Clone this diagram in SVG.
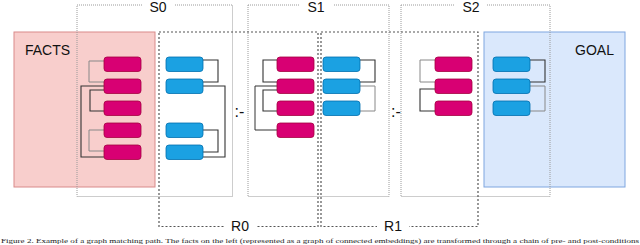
<svg xmlns="http://www.w3.org/2000/svg" width="640" height="245" viewBox="0 0 640 245">
<style>
text{font-family:"Liberation Sans",Arial,sans-serif;fill:#111}
.lbl{font-size:14px;text-anchor:middle}
.op{font-size:16px;text-anchor:middle}
.sbox{fill:none;stroke:#9a9a9a;stroke-width:1;stroke-dasharray:1 1}
.rbox{fill:none;stroke:#555;stroke-width:1.2;stroke-dasharray:2 2}
.pk{fill:#d80073;stroke:#a50040;stroke-width:0.8}
.bl{fill:#1ba1e2;stroke:#006eaf;stroke-width:0.8}
.dk{fill:none;stroke:#333;stroke-width:1.1}
.gr{fill:none;stroke:#888;stroke-width:1}
.cap{font-family:"Liberation Serif","Times New Roman",serif;font-size:7px;fill:#222}
</style>
<g id="facts">
<rect x="14" y="32" width="141" height="155" fill="#f8cecc" stroke="#d98a8a" stroke-width="1"/>
<text x="25" y="55" style="font-size:14px">FACTS</text>
</g>
<g id="goal">
<rect x="484" y="32" width="141" height="155" fill="#dae8fc" stroke="#7ea6e0" stroke-width="1"/>
<text x="614" y="55" style="font-size:14px;text-anchor:end">GOAL</text>
</g>
<g id="S0">
<rect class="sbox" x="77" y="5" width="155.5" height="191.5"/>
<rect x="142" y="0" width="32" height="12" fill="#fff"/>
<text class="lbl" x="158" y="12">S0</text>
</g>
<g id="S1">
<rect class="sbox" x="248" y="5" width="141" height="191.5"/>
<rect x="300" y="0" width="33" height="12" fill="#fff"/>
<text class="lbl" x="316" y="12">S1</text>
</g>
<g id="S2">
<rect class="sbox" x="401" y="5" width="149" height="191.5"/>
<rect x="455" y="0" width="32" height="12" fill="#fff"/>
<text class="lbl" x="471" y="12">S2</text>
</g>
<g id="R0">
<rect class="rbox" x="159" y="32" width="159" height="194.5"/>
<rect x="224" y="219" width="32" height="12" fill="#fff"/>
<text class="lbl" x="240" y="231">R0</text>
</g>
<g id="R1">
<rect class="rbox" x="321" y="32" width="157" height="194.5"/>
<rect x="377" y="219" width="32" height="12" fill="#fff"/>
<text class="lbl" x="393" y="231">R1</text>
</g>
<g id="ops">
<text class="op" x="239.5" y="117">:-</text>
<text class="op" x="396" y="117">:-</text>
</g>
<g id="connectors">
<path class="gr" d="M104,61 H89 V82 H104"/>
<path class="dk" d="M104,86 H81 V157 H104"/>
<path class="dk" d="M104,90 H90 V111 H104"/>
<path class="gr" d="M104,130 H89 V151 H104"/>
<path class="dk" d="M203,60 H218 V82 H203"/>
<path class="dk" d="M203,86 H225 V157 H203"/>
<path class="dk" d="M203,130 H218 V152 H203"/>
<path class="dk" d="M277,60 H263 V82 H277"/>
<path class="dk" d="M277,86 H255 V130 H277" style="stroke-width:1"/>
<path class="dk" d="M277,90 H263 V111 H277"/>
<path class="dk" d="M360,60 H375 V82 H360"/>
<path class="gr" d="M360,86 H375 V111 H360"/>
<path class="gr" d="M435,60 H420 V82 H435"/>
<path class="dk" d="M435,89 H420 V111 H435"/>
<path class="dk" d="M530,60 H545 V82 H530"/>
<path class="gr" d="M530,86 H545 V111 H530"/>
</g>
<g id="fact-nodes">
<rect class="pk" x="104" y="57" width="37" height="14.5" rx="3"/>
<rect class="pk" x="104" y="79" width="37" height="14.5" rx="3"/>
<rect class="pk" x="104" y="101" width="37" height="14.5" rx="3"/>
<rect class="pk" x="104" y="123" width="37" height="14.5" rx="3"/>
<rect class="pk" x="104" y="145" width="37" height="14.5" rx="3"/>
</g>
<g id="r0-head">
<rect class="bl" x="166" y="57" width="37" height="14.5" rx="3"/>
<rect class="bl" x="166" y="79" width="37" height="14.5" rx="3"/>
<rect class="bl" x="166" y="123" width="37" height="14.5" rx="3"/>
<rect class="bl" x="166" y="145" width="37" height="14.5" rx="3"/>
</g>
<g id="r0-body">
<rect class="pk" x="277" y="57" width="37" height="14.5" rx="3"/>
<rect class="pk" x="277" y="79" width="37" height="14.5" rx="3"/>
<rect class="pk" x="277" y="101" width="37" height="14.5" rx="3"/>
<rect class="pk" x="277" y="123" width="37" height="14.5" rx="3"/>
</g>
<g id="r1-head">
<rect class="bl" x="323" y="57" width="37" height="14.5" rx="3"/>
<rect class="bl" x="323" y="79" width="37" height="14.5" rx="3"/>
<rect class="bl" x="323" y="101" width="37" height="14.5" rx="3"/>
</g>
<g id="r1-body">
<rect class="pk" x="435" y="57" width="37" height="14.5" rx="3"/>
<rect class="pk" x="435" y="79" width="37" height="14.5" rx="3"/>
<rect class="pk" x="435" y="101" width="37" height="14.5" rx="3"/>
</g>
<g id="goal-nodes">
<rect class="bl" x="493" y="57" width="37" height="14.5" rx="3"/>
<rect class="bl" x="493" y="79" width="37" height="14.5" rx="3"/>
<rect class="bl" x="493" y="101" width="37" height="14.5" rx="3"/>
</g>
<text class="cap" x="1" y="242.5" textLength="638" lengthAdjust="spacingAndGlyphs">Figure 2. Example of a graph matching path. The facts on the left (represented as a graph of connected embeddings) are transformed through a chain of pre- and post-conditions</text>
</svg>
